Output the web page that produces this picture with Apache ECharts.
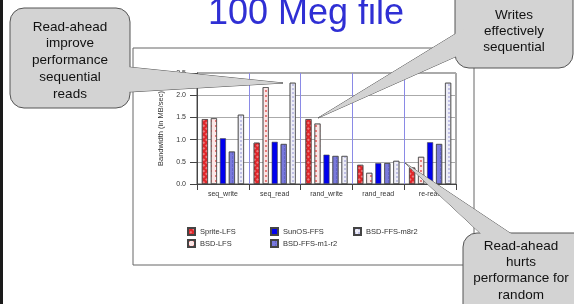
<!DOCTYPE html>
<html>
<head>
<meta charset="utf-8">
<script src="https://cdn.jsdelivr.net/npm/echarts@6/dist/echarts.min.js"></script>
<style>
  html, body { margin: 0; padding: 0; background: #fff; }
  #chart { width: 574px; height: 304px; }
</style>
</head>
<body>
<div id="chart"></div>
<script>
// categories and bandwidth (MB/sec)
const categories = ['seq_write', 'seq_read', 'rand_write', 'rand_read', 're-read'];
const spriteLfs = [1.46, 0.93, 1.46, 0.43, 0.37];
const bsdLfs = [1.48, 2.18, 1.36, 0.25, 0.61];
const sunosFfs = [1.03, 0.95, 0.66, 0.47, 0.94];
const bsdFfsM1r2 = [0.73, 0.90, 0.63, 0.47, 0.90];
const bsdFfsM8r2 = [1.56, 2.28, 0.63, 0.52, 2.28];
const yTicks = [0, 0.5, 1.0, 1.5, 2.0, 2.5];

const font = 'Liberation Sans, Arial, sans-serif';

function bar (name, data, color, decal) {
    const s = {
        name: name,
        type: 'bar',
        data: data,
        barWidth: 6,
        barGap: '50%',
        itemStyle: { color: color, borderColor: '#444', borderWidth: 0.6 }
    };
    if (decal) {
        s.itemStyle.decal = decal;
    }
    return s;
}

// callout = tail triangle + rounded box + text
function callout (box, tail, text, textPos, lineH) {
    const st = { fill: '#d3d3d3', stroke: '#555', lineWidth: 1 };
    return [
        { type: 'polygon', z: 100, shape: { points: tail }, style: st },
        { type: 'rect', z: 101, shape: { x: box[0], y: box[1], width: box[2], height: box[3], r: 14 }, style: st },
        { type: 'polygon', z: 102, shape: { points: tail }, style: { fill: '#d3d3d3' } },
        {
            type: 'text', z: 103, x: textPos[0], y: textPos[1],
            style: {
                text: text, fill: '#111', font: '13.5px ' + font,
                align: 'center', verticalAlign: 'middle', lineHeight: lineH
            }
        }
    ];
}

const chart = echarts.init(document.getElementById('chart'), null, { renderer: 'canvas' });

const option = {
    animation: false,
    backgroundColor: '#fff',
    grid: {
        left: 197, top: 73, width: 259, height: 111,
        show: true, borderColor: '#555', borderWidth: 1
    },
    xAxis: {
        type: 'category',
        data: categories,
        axisLine: { lineStyle: { color: '#444', width: 1 } },
        axisTick: { show: true, length: 6, lineStyle: { color: '#444' } },
        axisLabel: { fontSize: 7, color: '#333', margin: 7, fontFamily: font },
        splitLine: { show: true, showMinLine: false, showMaxLine: false, lineStyle: { color: '#8a8ae6', width: 1 } }
    },
    yAxis: {
        type: 'value',
        min: yTicks[0],
        max: yTicks[yTicks.length - 1],
        interval: 0.5,
        name: 'Bandwidth (in MB/sec)',
        nameLocation: 'middle',
        nameGap: 32,
        nameTextStyle: { fontSize: 7.5, color: '#333', fontFamily: font },
        axisLine: { show: true, lineStyle: { color: '#444' } },
        axisTick: { show: true, length: 7, lineStyle: { color: '#444' } },
        axisLabel: {
            fontSize: 7, color: '#333', margin: 11, fontFamily: font,
            formatter: function (v) { return v.toFixed(1); }
        },
        splitLine: { lineStyle: { color: '#aaa', width: 1 } }
    },
    legend: [
        { data: ['Sprite-LFS', 'BSD-LFS'], left: 187, top: 227 },
        { data: ['SunOS-FFS', 'BSD-FFS-m1-r2'], left: 270, top: 227 },
        { data: ['BSD-FFS-m8r2'], left: 353, top: 227 }
    ].map(function (l) {
        return Object.assign({
            orient: 'vertical', itemWidth: 7, itemHeight: 7, itemGap: 3,
            icon: 'rect', padding: 0,
            textStyle: { fontSize: 7.5, color: '#333', fontFamily: font }
        }, l);
    }),
    series: [
        bar('Sprite-LFS', spriteLfs, '#e0262a', {
            symbol: 'rect', symbolSize: 0.7, color: 'rgba(255,255,255,0.75)',
            dashArrayX: [2, 2], dashArrayY: [2, 2], rotation: 0.785
        }),
        bar('BSD-LFS', bsdLfs, '#fbe6e6', {
            symbol: 'circle', symbolSize: 0.9, color: '#e04848',
            dashArrayX: [2, 3], dashArrayY: [2, 3]
        }),
        bar('SunOS-FFS', sunosFfs, '#0000ee'),
        bar('BSD-FFS-m1-r2', bsdFfsM1r2, '#7a7adc', {
            symbol: 'rect', symbolSize: 1, color: 'rgba(60,60,170,0.35)',
            dashArrayX: [1, 3], dashArrayY: [3, 1]
        }),
        bar('BSD-FFS-m8r2', bsdFfsM8r2, '#eeeef8', {
            symbol: 'circle', symbolSize: 0.8, color: '#8c8cd0',
            dashArrayX: [2, 2], dashArrayY: [2, 2]
        })
    ],
    graphic: [
        // slide edge
        { type: 'rect', shape: { x: 0, y: 0, width: 3, height: 304 }, style: { fill: '#1a1a1a' } },
        // outer chart frame
        { type: 'rect', shape: { x: 133, y: 48, width: 341, height: 217 }, style: { fill: 'none', stroke: '#666', lineWidth: 1 } },
        {
            type: 'text', x: 306, y: 14, z: 50,
            style: {
                text: '100 Meg file', fill: '#2f2fd4', font: '36px ' + font,
                align: 'center', verticalAlign: 'middle'
            }
        }
    ].concat(
        callout([10, 8, 120, 100], [[118, 66], [283, 83], [118, 92.6]],
            'Read-ahead\nimprove\nperformance\nsequential\nreads', [70, 60.5], 16.75),
        callout([455, -20, 118, 88], [[465, 28], [318, 118], [465, 52.5]],
            'Writes\neffectively\nsequential', [514, 31.5], 16),
        callout([463, 233, 130, 90], [[520.5, 240], [405, 163], [487.5, 240]],
            'Read-ahead\nhurts\nperformance for\nrandom', [521, 270.5], 16.3)
    )
};

chart.setOption(option);
window.addEventListener('resize', chart.resize);
</script>
</body>
</html>
